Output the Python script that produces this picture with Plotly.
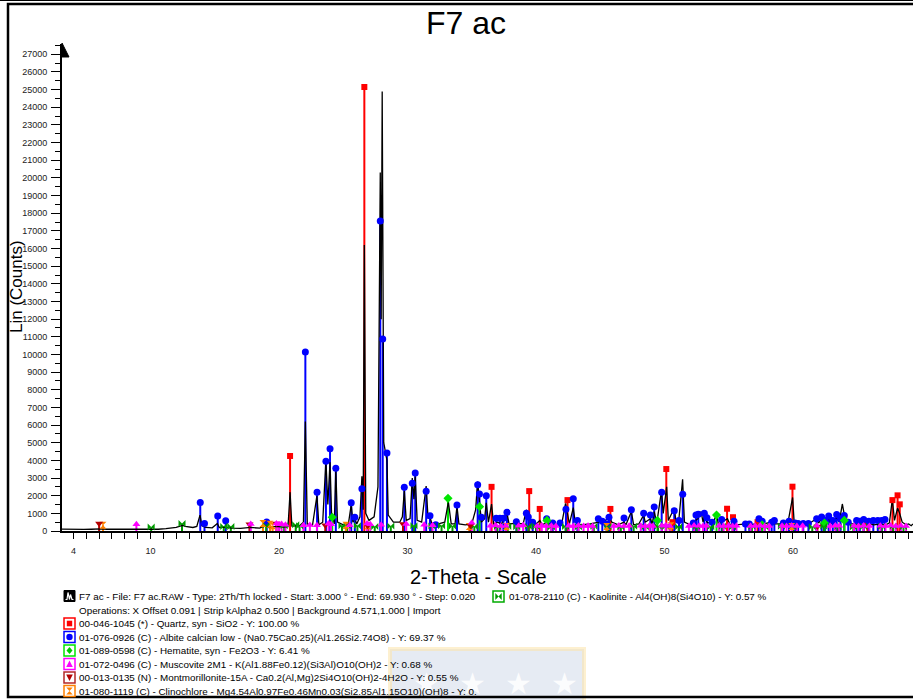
import plotly.graph_objects as go

# ---- measured scan (2-Theta, Lin counts) ----
scan_tth = [
    3.11, 3.6, 4.2, 4.8, 5.4, 5.85, 6.1, 6.6, 7.2, 7.5,
    7.7, 8.3, 8.9, 9.5, 10.0, 10.6, 11.2, 11.6, 12.0, 12.3,
    12.5, 12.7, 13.0, 13.3, 13.6, 13.85, 14.0, 14.3, 14.8, 15.2,
    15.35, 15.8, 16.3, 17.0, 17.8, 18.5, 19.0, 19.2, 19.8, 20.3,
    20.7, 20.86, 21.0, 21.6, 21.9, 22.05, 22.2, 22.6, 22.95, 23.1,
    23.4, 23.65, 23.8, 23.97, 24.1, 24.2, 24.3, 24.42, 24.55, 25.0,
    25.4, 25.62, 25.75, 25.9, 26.05, 26.3, 26.45, 26.55, 26.64, 26.75,
    27.0, 27.4, 27.7, 27.88, 27.95, 28.03, 28.15, 28.4, 28.5, 28.9,
    29.4, 29.6, 29.75, 29.9, 30.2, 30.37, 30.5, 30.6, 30.75, 31.1,
    31.45, 31.6, 31.75, 31.9, 32.4, 32.9, 33.18, 33.4, 33.7, 33.85,
    34.0, 34.5, 35.0, 35.3, 35.46, 35.6, 35.75, 36.0, 36.13, 36.3,
    36.54, 36.7, 37.0, 37.3, 37.75, 37.9, 38.5, 39.0, 39.25, 39.45,
    39.6, 40.0, 40.3, 40.5, 40.85, 41.2, 42.0, 42.3, 42.45, 42.6,
    42.9, 43.05, 43.5, 44.2, 44.9, 45.2, 45.7, 45.9, 46.4, 46.85,
    47.0, 47.42, 47.6, 48.0, 48.38, 48.5, 48.9, 49.05, 49.2, 49.4,
    49.77, 49.9, 50.17, 50.3, 50.76, 50.9, 51.1, 51.41, 51.55, 52.0,
    52.6, 52.85, 53.0, 53.15, 53.3, 53.7, 54.05, 54.2, 54.9, 55.1,
    55.4, 55.6, 56.3, 56.7, 57.3, 57.5, 57.7, 58.3, 58.6, 59.1,
    59.6, 59.97, 60.1, 60.6, 61.2, 61.84, 62.0, 62.23, 62.4, 62.78,
    62.95, 63.4, 63.6, 63.84, 64.05, 64.3, 64.8, 65.4, 65.8, 66.3,
    66.8, 67.2, 67.5, 67.73, 67.9, 68.14, 68.3, 68.5, 68.8, 69.0,
    69.2, 69.34,
]
scan_counts = [
    110, 95, 100, 90, 100, 140, 120, 100, 95, 130,
    100, 95, 110, 90, 110, 100, 130, 160, 200, 280,
    320, 260, 220, 200, 260, 900, 300, 200, 180, 420,
    200, 220, 160, 150, 200, 160, 350, 200, 260, 220,
    250, 2200, 280, 300, 500, 6200, 400, 300, 2000, 350,
    500, 4000, 1500, 3900, 700, 800, 400, 3500, 500, 350,
    400, 1500, 500, 700, 400, 800, 3100, 1200, 16200, 1000,
    600, 800, 2500, 20300, 12000, 24900, 5000, 4000, 900, 500,
    500, 800, 2280, 600, 700, 3000, 1800, 3100, 600, 500,
    2550, 700, 800, 400, 400, 500, 1650, 400, 400, 1400,
    400, 350, 400, 1200, 2800, 1800, 500, 700, 1600, 500,
    1530, 400, 500, 400, 1000, 400, 450, 400, 1200, 1000,
    500, 400, 600, 350, 500, 350, 400, 1570, 1000, 400,
    1320, 500, 350, 400, 500, 450, 800, 500, 350, 500,
    350, 1100, 350, 400, 900, 500, 700, 400, 1100, 450,
    2300, 1000, 2500, 600, 1300, 500, 500, 2930, 500, 350,
    700, 1100, 500, 1000, 500, 400, 900, 400, 700, 350,
    450, 350, 400, 350, 450, 700, 400, 500, 400, 400,
    450, 1900, 400, 350, 400, 700, 450, 750, 400, 700,
    400, 800, 500, 1530, 700, 400, 400, 350, 450, 350,
    400, 350, 450, 1800, 600, 1300, 1000, 500, 350, 400,
    300, 400,
]

# ---- reference patterns (stick positions / intensities) ----
quartz_pos = [20.86, 26.64, 36.54, 39.47, 40.29, 42.45, 45.79, 50.14, 50.62,
              54.87, 55.33, 57.24, 59.96, 63.99, 65.79, 67.74, 68.14, 68.31]
quartz_int = [4250, 25150, 2500, 2260, 1250, 1750, 1250, 3510, 500,
              1260, 780, 500, 2510, 780, 500, 1750, 2020, 1510]

albite_pos = [13.87, 14.2, 15.23, 15.85, 19.04, 22.05, 22.96, 23.65, 23.97, 24.42,
              25.62, 25.9, 26.45, 27.88, 28.07, 28.4, 29.75, 30.37, 30.6, 31.45,
              31.75, 32.2, 33.85, 35.46, 35.6, 35.75, 36.13, 36.9, 37.2, 37.46,
              37.74, 38.47, 39.25, 39.4, 39.74, 40.83, 41.3, 41.87, 42.33, 42.9,
              43.22, 44.85, 45.16, 45.5, 45.68, 46.85, 47.42, 48.38, 48.9, 49.2,
              49.78, 50.76, 51.13, 51.42, 52.24, 52.45, 52.63, 53.1, 53.3, 53.7,
              54.45, 55.41, 56.3, 56.6, 57.35, 57.6, 58.34, 58.55, 59.25, 59.69,
              60.16, 60.4, 60.8, 61.2, 61.84, 62.23, 62.5, 62.78, 63.1, 63.4,
              63.7, 63.99, 64.3, 64.95, 65.2, 65.5, 65.9, 66.25, 66.6, 66.9,
              67.16]
albite_int = [1620, 430, 850, 580, 510, 10140, 2200, 3950, 4660, 3550,
              1600, 780, 2400, 17560, 10870, 4420, 2480, 2700, 3285, 2250,
              870, 350, 1470, 2620, 2100, 780, 2000, 720, 720, 720,
              1060, 530, 1000, 800, 500, 700, 450, 450, 1230, 1830,
              600, 700, 550, 400, 780, 740, 1200, 1000, 900, 1360,
              2200, 1150, 600, 2080, 450, 900, 950, 1000, 750, 500,
              650, 550, 400, 400, 700, 550, 500, 600, 450, 550,
              450, 420, 420, 420, 700, 800, 600, 850, 600, 940,
              700, 880, 500, 600, 550, 650, 550, 600, 600, 600,
              650]

hematite_pos = [24.14, 33.15, 35.61, 40.85, 49.45, 54.05, 57.59, 62.45, 63.99]
hematite_int = [780, 1850, 1380, 600, 600, 900, 350, 450, 600]

muscovite_pos = [8.9, 17.8, 19.8, 20.0, 20.2, 20.5, 21.9, 22.4, 22.95, 23.85,
                 24.05, 25.5, 26.85, 27.1, 27.95, 29.9, 31.3, 31.95,
                 35.0,
                 36.45, 36.85, 37.25, 37.65,
                 38.65, 39.0,
                 40.1, 40.45, 40.8, 41.2, 41.55,
                 42.55, 42.9, 43.3, 43.7, 44.05, 44.4,
                 46.05, 46.45, 46.85, 47.25,
                 48.15, 48.5, 48.85, 49.1,
                 49.8, 50.1, 50.4,
                 51.9, 52.3, 52.7, 53.0, 53.25,
                 54.25, 54.6, 55.0, 55.3, 55.6,
                 56.7, 57.05, 57.45, 57.8, 58.15,
                 59.15, 59.5, 59.9, 60.3, 60.75,
                 61.85,
                 62.9, 63.3, 63.6,
                 64.75, 65.1, 65.5, 65.95,
                 66.8, 67.2, 67.6, 68.0, 68.4, 68.8]
muscovite_int = [380, 400, 420, 380, 400, 360, 320, 340, 330, 420,
                 380, 330, 420, 380, 360, 400, 350, 330,
                 470,
                 300, 330, 280, 300,
                 300, 320,
                 280, 310, 290, 300, 280,
                 300, 280, 310, 290, 300, 280,
                 290, 310, 280, 300,
                 300, 280, 310, 290,
                 300, 330, 280,
                 290, 310, 300, 280, 300,
                 300, 280, 310, 290, 300,
                 280, 300, 310, 290, 280,
                 300, 290, 310, 280, 300,
                 300,
                 290, 310, 300,
                 300, 280, 310, 290,
                 300, 290, 310, 280, 300, 290]

montmor_pos = [6.0, 17.7, 19.8, 23.6, 26.9, 29.65, 34.9, 61.9]
montmor_int = [430, 380, 420, 330, 300, 400, 300, 250]

clinochl_pos = [6.3, 18.75, 19.3, 19.5, 25.2, 26.9, 34.8, 37.7, 45.5, 50.5, 59.9]
clinochl_int = [330, 420, 380, 300, 330, 300, 250, 250, 250, 300, 250]

kaolinite_pos = [10.05, 12.45, 15.7, 16.25, 19.0, 20.4, 21.3, 21.6, 24.9, 25.3,
                 26.1, 27.45, 28.7, 30.5, 31.9, 32.65, 33.5, 35.2, 37.0, 37.8,
                 38.5, 39.4, 40.0, 41.2, 42.3, 43.3, 44.5, 45.6, 46.6, 47.6,
                 48.5, 49.5, 50.1, 51.1, 52.5, 53.6, 54.5, 55.3, 56.8, 57.8,
                 59.1, 60.0, 61.5, 62.4, 63.5, 64.7, 65.5, 66.9, 67.8, 68.6]
kaolinite_int = [220, 420, 260, 260, 320, 300, 350, 300, 300, 300,
                 300, 250, 280, 300, 280, 300, 280, 250, 250, 260,
                 240, 270, 255, 235, 260, 245, 270, 250, 230, 265,
                 240, 275, 250, 235, 260, 245, 270, 230, 255, 240,
                 265, 250, 235, 275, 245, 230, 260, 250, 270, 240]

x_tick_vals = [4, 10, 20, 30, 40, 50, 60]

# ---- page geometry (pixels) ----
W, H = 913, 700
L, R, T, B = 62, 0, 44, 169
PW, PH = W - L - R, H - T - B
FONT = "Liberation Sans, Arial, sans-serif"


def px(x):
    return (x - L) / PW


def py(y):
    return (H - B - y) / PH


shapes = []
annotations = []


def rect(x0, y0, x1, y1, **kw):
    shapes.append(dict(type="rect", xref="paper", yref="paper",
                       x0=px(x0), x1=px(x1), y0=py(y1), y1=py(y0), **kw))


def poly(pts, **kw):
    d = "M " + " L ".join(f"{px(a):.5f},{py(b):.5f}" for a, b in pts) + " Z"
    shapes.append(dict(type="path", xref="paper", yref="paper", path=d, **kw))


def text(x, y, s, size=9.85, anchor="left", color="black", family=FONT):
    annotations.append(dict(xref="paper", yref="paper", x=px(x), y=py(y), text=s,
                            showarrow=False, xanchor=anchor, yanchor="middle",
                            font=dict(family=family, size=size, color=color)))


phases = [
    # name, pos, int, color, symbol, size
    ("quartz", quartz_pos, quartz_int, "#ff0000", "square", 6),
    ("albite", albite_pos, albite_int, "#0000ff", "circle", 7),
    ("hematite", hematite_pos, hematite_int, "#00e600", "diamond", 7),
    ("kaolinite", kaolinite_pos, kaolinite_int, "#009a00", "bowtie", 7),
    ("clinochlore", clinochl_pos, clinochl_int, "#ff8000", "hourglass", 7),
    ("montmorillonite", montmor_pos, montmor_int, "#b40000", "triangle-down", 7),
    ("muscovite", muscovite_pos, muscovite_int, "#ff00ff", "triangle-up", 7),
]

fig = go.Figure()

for name, pos, inten, color, sym, size in phases:
    xs, ys = [], []
    for p, v in zip(pos, inten):
        xs += [p, p, None]
        ys += [0, v, None]
    fig.add_trace(go.Scatter(x=xs, y=ys, mode="lines", line=dict(color=color, width=2),
                             hoverinfo="skip", name=name))

fig.add_trace(go.Scatter(x=scan_tth, y=scan_counts, mode="lines",
                         line=dict(color="black", width=1.3), name="F7 ac"))

for name, pos, inten, color, sym, size in phases:
    fig.add_trace(go.Scatter(x=pos, y=inten, mode="markers",
                             marker=dict(symbol=sym, size=size, color=color,
                                         line=dict(width=0)),
                             name=name))

# ---- decorations ----
# watermark
rect(390, 649, 584, 706, fillcolor="rgba(205,215,232,0.5)",
     line=dict(color="rgba(252,228,170,0.55)", width=4), layer="below")
text(495, 683, "★  ★  ★  ★", size=30, anchor="center",
     color="rgba(255,255,255,0.9)", family="DejaVu Sans")

# outer frame
shapes.append(dict(type="line", xref="paper", yref="paper", x0=px(0), x1=px(W + 5),
                   y0=py(0.5), y1=py(0.5), line=dict(color="black", width=1)))
rect(8, 4, W + 10, 697, line=dict(color="black", width=2.5))

# y axis arrow
poly([(62, 43), (69, 57), (62, 57)], fillcolor="black", line=dict(color="black", width=1))

# titles
text(466, 23, "F7 ac", size=32, anchor="center")
text(478, 577, "2-Theta - Scale", size=20, anchor="center")
annotations.append(dict(xref="paper", yref="paper", x=px(16), y=py(287),
                        text="Lin (Counts)", textangle=-90, showarrow=False,
                        xanchor="center", yanchor="middle",
                        font=dict(family=FONT, size=17, color="black")))

# legend block
rows = [596.5, 610, 623.5, 637, 650.5, 664, 677.5, 691]
legend_texts = [
    "F7 ac - File: F7 ac.RAW - Type: 2Th/Th locked - Start: 3.000 ° - End: 69.930 ° - Step: 0.020",
    "Operations: X Offset 0.091 | Strip kAlpha2 0.500 | Background 4.571,1.000 | Import",
    "00-046-1045 (*) - Quartz, syn - SiO2 - Y: 100.00 %",
    "01-076-0926 (C) - Albite calcian low - (Na0.75Ca0.25)(Al1.26Si2.74O8) - Y: 69.37 %",
    "01-089-0598 (C) - Hematite, syn - Fe2O3 - Y: 6.41 %",
    "01-072-0496 (C) - Muscovite 2M1 - K(Al1.88Fe0.12)(Si3Al)O10(OH)2 - Y: 0.68 %",
    "00-013-0135 (N) - Montmorillonite-15A - Ca0.2(Al,Mg)2Si4O10(OH)2-4H2O - Y: 0.55 %",
    "01-080-1119 (C) - Clinochlore - Mg4.54Al0.97Fe0.46Mn0.03(Si2.85Al1.15O10)(OH)8 - Y: 0.",
]
for yy, s in zip(rows, legend_texts):
    text(77, yy, s)
text(506.5, rows[0], "01-078-2110 (C) - Kaolinite - Al4(OH)8(Si4O10) - Y: 0.57 %")


def icon_box(x0, yc, color):
    rect(x0, yc - 5.5, x0 + 11, yc + 5.5, line=dict(color=color, width=1.5),
         fillcolor="white")


# scan icon
yc = rows[0]
rect(64, yc - 6, 75, yc + 5, fillcolor="black", line=dict(color="black", width=1))
shapes.append(dict(type="path", xref="paper", yref="paper",
                   path="M " + " L ".join(f"{px(a):.5f},{py(b):.5f}" for a, b in
                                          [(65.5, yc + 3), (67, yc + 3), (68, yc - 4),
                                           (69.5, yc + 3), (70.5, yc - 2), (72, yc + 3),
                                           (73.5, yc + 3)]),
                   line=dict(color="white", width=1.2)))

# quartz
yc = rows[2]
icon_box(64, yc, "#ff0000")
rect(66.8, yc - 2.8, 72.2, yc + 2.8, fillcolor="#ff0000", line=dict(width=0))
# albite
yc = rows[3]
icon_box(64, yc, "#0000ff")
shapes.append(dict(type="circle", xref="paper", yref="paper", x0=px(66.3), x1=px(72.7),
                   y0=py(yc + 3.2), y1=py(yc - 3.2), fillcolor="#0000ff", line=dict(width=0)))
# hematite
yc = rows[4]
icon_box(64, yc, "#00e600")
poly([(69.5, yc - 3.5), (72.5, yc), (69.5, yc + 3.5), (66.5, yc)], fillcolor="#00cc00",
     line=dict(width=0))
# muscovite
yc = rows[5]
icon_box(64, yc, "#ff00ff")
poly([(69.5, yc - 3.5), (72.8, yc + 3), (66.2, yc + 3)], fillcolor="#ff00ff", line=dict(width=0))
# montmorillonite
yc = rows[6]
icon_box(64, yc, "#b42828")
poly([(66.2, yc - 3), (72.8, yc - 3), (69.5, yc + 3.5)], fillcolor="#b40000", line=dict(width=0))
# clinochlore
yc = rows[7]
icon_box(64, yc, "#ff8000")
poly([(66.3, yc - 3.5), (72.7, yc - 3.5), (66.3, yc + 3.5), (72.7, yc + 3.5)],
     fillcolor="#ff8000", line=dict(width=0))
# kaolinite
yc = rows[0]
icon_box(493, yc, "#00aa00")
poly([(495.3, yc - 3.5), (495.3, yc + 3.5), (501.7, yc - 3.5), (501.7, yc + 3.5)],
     fillcolor="#009a00", line=dict(width=0))

# ---- axes ----
x_ticks = list(range(4, 70))
x_text = [str(v) if v in x_tick_vals else "" for v in x_ticks]

fig.update_xaxes(range=[3.11, 69.34], showline=True, linecolor="black", linewidth=2,
                 ticks="outside", ticklen=6, tickwidth=1.2, tickcolor="black",
                 tickmode="array", tickvals=x_ticks, ticktext=x_text,
                 tickfont=dict(family=FONT, size=9, color="#222"),
                 ticklabelstandoff=4, showgrid=False, zeroline=False)
fig.update_yaxes(range=[0, PH / 0.017655], showline=True, linecolor="black", linewidth=2,
                 ticks="outside", ticklen=9, tickwidth=1.2, tickcolor="black",
                 dtick=1000, tick0=0, tickformat="d",
                 minor=dict(ticks="outside", dtick=500, ticklen=5, tickwidth=1.2,
                            tickcolor="black", showgrid=False),
                 tickfont=dict(family=FONT, size=9, color="#222"),
                 ticklabelstandoff=2, showgrid=False, zeroline=False)

fig.update_layout(
    width=W, height=H,
    margin=dict(l=L, r=R, t=T, b=B),
    plot_bgcolor="white", paper_bgcolor="white",
    showlegend=False,
    shapes=shapes, annotations=annotations,
    font=dict(family=FONT),
)

# page body has a default 8px margin; remove it so the figure sits at the corner
fig.write_html("out.html", config={"displayModeBar": False},
               post_script="document.body.style.margin='0';")
